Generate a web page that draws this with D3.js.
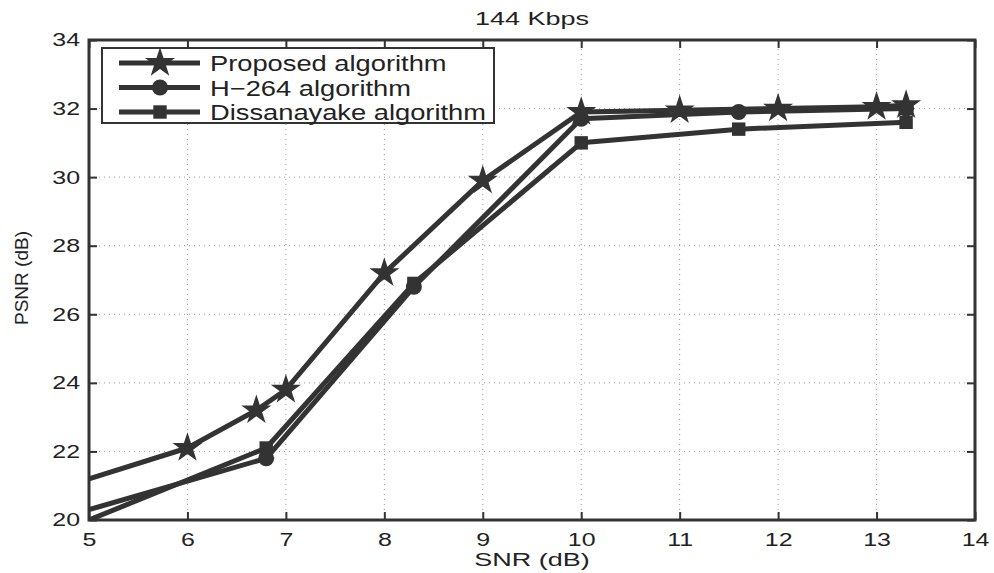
<!DOCTYPE html>
<html>
<head>
<meta charset="utf-8">
<script src="https://cdn.jsdelivr.net/npm/d3@7"></script>
<style>
  body { margin: 0; background: #fff; }
  text { font-family: "Liberation Sans", Arial, sans-serif; fill: #222; }
</style>
</head>
<body>
<svg id="chart" width="994" height="573"></svg>
<script>
var xTicks = [5, 6, 7, 8, 9, 10, 11, 12, 13, 14];
var yTicks = [20, 22, 24, 26, 28, 30, 32, 34];

var proposedX = [5, 6, 6.7, 7, 8, 9, 10, 11, 12, 13, 13.3];
var proposedY = [21.2, 22.1, 23.2, 23.8, 27.2, 29.9, 31.9, 31.95, 32.0, 32.05, 32.1];

var h264X = [5, 6.8, 8.3, 10, 11.6, 13.3];
var h264Y = [20.3, 21.8, 26.8, 31.7, 31.9, 32.0];

var dissX = [5, 6.8, 8.3, 10, 11.6, 13.3];
var dissY = [20.0, 22.1, 26.9, 31.0, 31.4, 31.6];

var seriesNames = ['Proposed algorithm', 'H\u2212264 algorithm', 'Dissanayake algorithm'];
var seriesMarkers = ['star', 'circle', 'square'];

var lineColor = '#333333';

var margin = {left: 89, right: 19, top: 40, bottom: 53};
var width = 994, height = 573;

var svg = d3.select('#chart');

var x = d3.scaleLinear().domain([5, 14]).range([margin.left, width - margin.right]);
var y = d3.scaleLinear().domain([20, 34]).range([height - margin.bottom, margin.top]);

// the original picture is widened horizontally, so text is stretched
function widen(sel, k) {
    sel.each(function() {
        var len = this.getComputedTextLength();
        d3.select(this)
            .attr('textLength', len * k)
            .attr('lengthAdjust', 'spacingAndGlyphs');
    });
}

// grid
var grid = svg.append('g');
grid.selectAll('.gx')
    .data(xTicks.slice(1, -1))
    .enter().append('line')
    .attr('x1', d => x(d)).attr('x2', d => x(d))
    .attr('y1', y(20)).attr('y2', y(34))
    .attr('stroke', '#999').attr('stroke-width', 1)
    .attr('stroke-dasharray', '1,4');
grid.selectAll('.gy')
    .data(yTicks.slice(1, -1))
    .enter().append('line')
    .attr('y1', d => y(d)).attr('y2', d => y(d))
    .attr('x1', x(5)).attr('x2', x(14))
    .attr('stroke', '#999').attr('stroke-width', 1)
    .attr('stroke-dasharray', '1,4');

// axes (ticks pointing in, like matlab box)
var tickLen = 8;
svg.append('g')
    .attr('transform', 'translate(0,' + y(20) + ')')
    .call(d3.axisBottom(x).tickValues(xTicks).tickSize(-tickLen).tickPadding(13).tickFormat(d3.format('d')))
    .call(g => g.select('.domain').remove());
svg.append('g')
    .attr('transform', 'translate(0,' + y(34) + ')')
    .call(d3.axisTop(x).tickValues(xTicks).tickSize(-tickLen).tickFormat(''))
    .call(g => g.select('.domain').remove());
svg.append('g')
    .attr('transform', 'translate(' + x(5) + ',0)')
    .call(d3.axisLeft(y).tickValues(yTicks).tickSize(-tickLen).tickPadding(9).tickFormat(d3.format('d')))
    .call(g => g.select('.domain').remove());
svg.append('g')
    .attr('transform', 'translate(' + x(14) + ',0)')
    .call(d3.axisRight(y).tickValues(yTicks).tickSize(-tickLen).tickFormat(''))
    .call(g => g.select('.domain').remove());

svg.selectAll('.tick line').attr('stroke', '#333').attr('stroke-width', 2);
svg.selectAll('.tick text')
    .style('font-size', '18.5px')
    .style('font-family', '"Liberation Sans", Arial, sans-serif')
    .attr('fill', '#222')
    .call(widen, 1.35);

svg.append('rect')
    .attr('x', x(5)).attr('y', y(34))
    .attr('width', x(14) - x(5)).attr('height', y(20) - y(34))
    .attr('fill', 'none').attr('stroke', '#333').attr('stroke-width', 3);

// markers
var starPath = d3.symbol().type(d3.symbolStar).size(280)();
var circlePath = d3.symbol().type(d3.symbolCircle).size(200)();
var squarePath = d3.symbol().type(d3.symbolSquare).size(180)();
var markerPaths = {star: starPath, circle: circlePath, square: squarePath};

var plot = svg.append('g');
plot.append('clipPath').attr('id', 'clip')
    .append('rect')
    .attr('x', x(5)).attr('y', y(34))
    .attr('width', x(14) - x(5)).attr('height', y(20) - y(34));

var line = d3.line().x(d => x(d[0])).y(d => y(d[1]));

var allSeries = [
    {xs: dissX, ys: dissY, marker: 'square'},
    {xs: h264X, ys: h264Y, marker: 'circle'},
    {xs: proposedX, ys: proposedY, marker: 'star'}
];

allSeries.forEach(function(s) {
    var pts = s.xs.map((v, i) => [v, s.ys[i]]);
    plot.append('path')
        .datum(pts)
        .attr('d', line)
        .attr('clip-path', 'url(#clip)')
        .attr('fill', 'none')
        .attr('stroke', lineColor)
        .attr('stroke-width', 5)
        .attr('stroke-linejoin', 'round');
    plot.selectAll(null)
        .data(pts.filter(p => p[0] > 5))
        .enter().append('path')
        .attr('d', markerPaths[s.marker])
        .attr('transform', p => 'translate(' + x(p[0]) + ',' + y(p[1]) + ')')
        .attr('fill', lineColor);
});

// legend
var legend = svg.append('g').attr('transform', 'translate(102,48)');
legend.append('rect')
    .attr('width', 392).attr('height', 75)
    .attr('fill', '#fff').attr('stroke', '#333').attr('stroke-width', 2);

seriesNames.forEach(function(name, i) {
    var rowY = 15 + i * 24.5;
    legend.append('line')
        .attr('x1', 17).attr('x2', 98)
        .attr('y1', rowY).attr('y2', rowY)
        .attr('stroke', lineColor).attr('stroke-width', 5);
    legend.append('path')
        .attr('d', markerPaths[seriesMarkers[i]])
        .attr('transform', 'translate(58,' + rowY + ')')
        .attr('fill', lineColor);
    legend.append('text')
        .attr('x', 108).attr('y', rowY + 8)
        .style('font-size', '22px')
        .text(name)
        .call(widen, 1.24);
});

// title and axis labels
svg.append('text')
    .attr('x', 532).attr('y', 25)
    .attr('text-anchor', 'middle')
    .style('font-size', '19px')
    .text('144 Kbps')
    .call(widen, 1.42);

svg.append('text')
    .attr('x', 532).attr('y', 566)
    .attr('text-anchor', 'middle')
    .style('font-size', '19px')
    .text('SNR (dB)')
    .call(widen, 1.42);

svg.append('text')
    .attr('transform', 'translate(28,' + 278 + ') rotate(-90)')
    .attr('text-anchor', 'middle')
    .style('font-size', '19px')
    .text('PSNR (dB)');
</script>
</body>
</html>
